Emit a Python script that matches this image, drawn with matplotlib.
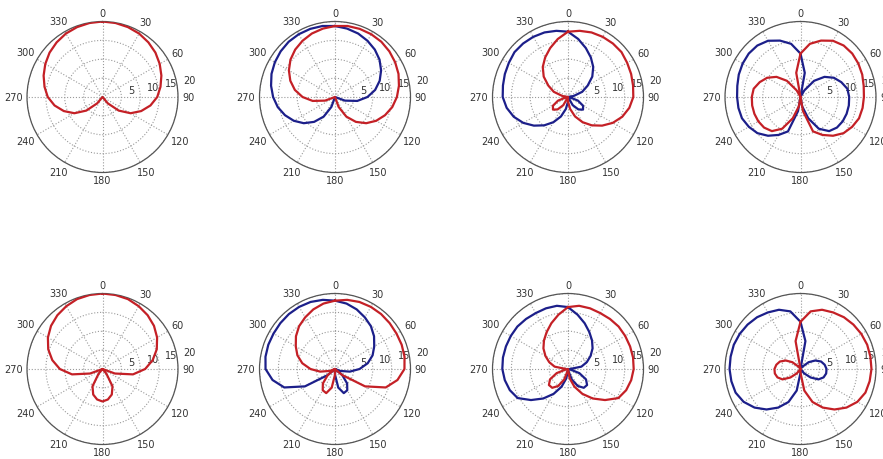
import numpy as np
import matplotlib
matplotlib.use('Agg')
import matplotlib.pyplot as plt

# compass angles (deg, clockwise from north), 10 degree steps
angles = np.arange(0, 360, 10)

# red patterns, radius = level above the -20 dB floor
# the blue curve in each panel is the mirror image of the red one
top_1 = [20.0, 19.9, 19.7, 19.4, 18.9, 18.3, 17.5, 16.6, 15.6, 14.5, 12.9, 10.9,
         8.6, 5.6, 2.2, 0.0, 0.0, 0.0, 0.0, 0.0, 0.0, 0.0, 2.2, 5.6,
         8.6, 10.9, 12.9, 14.5, 15.6, 16.6, 17.5, 18.3, 18.9, 19.4, 19.7, 19.9]
top_2 = [18.8, 19.1, 19.2, 19.2, 19.1, 18.8, 18.4, 17.9, 17.2, 16.4, 15.4, 14.1,
         12.6, 10.8, 8.6, 6.0, 2.8, 0.0, 0.0, 0.0, 0.0, 0.0, 0.0, 0.0,
         0.0, 2.8, 6.0, 8.6, 10.8, 12.6, 14.1, 15.4, 16.4, 17.2, 17.9, 18.4]
top_3 = [17.3, 17.8, 18.2, 18.4, 18.5, 18.5, 18.1, 17.8, 17.5, 17.3, 16.5, 15.3,
         13.7, 11.8, 9.8, 7.7, 5.5, 3.2, 1.2, 0.0, 0.0, 2.5, 4.3, 5.2,
         4.6, 2.8, 0.5, 0.0, 1.5, 4.0, 6.0, 8.4, 10.4, 12.1, 13.8, 15.6]
top_4 = [11.5, 14.3, 15.9, 17.2, 17.8, 17.9, 17.7, 17.4, 17.0, 16.8, 16.7, 16.5,
         15.8, 14.9, 13.4, 11.6, 9.7, 3.8, 0.0, 2.5, 6.0, 9.7, 11.8, 12.6,
         12.9, 13.0, 13.0, 12.9, 12.6, 11.5, 10.2, 8.3, 5.6, 2.0, 0.0, 6.5]
bot_1 = [20.0, 19.9, 19.7, 19.2, 18.6, 17.8, 16.7, 15.3, 13.5, 11.3, 8.2, 3.5,
         0.0, 0.0, 1.6, 5.3, 7.2, 8.2, 8.6, 8.2, 7.2, 5.3, 1.6, 0.0,
         0.0, 3.5, 8.2, 11.3, 13.5, 15.3, 16.7, 17.8, 18.6, 19.2, 19.7, 19.9]
bot_2 = [18.1, 18.6, 18.9, 19.0, 19.0, 18.9, 18.8, 18.8, 18.7, 18.4, 16.8, 14.3,
         9.2, 2.5, 0.0, 0.0, 0.0, 0.0, 1.5, 5.0, 6.8, 6.5, 5.0, 2.5,
         0.0, 1.5, 4.0, 6.5, 8.8, 10.6, 12.0, 13.5, 14.8, 15.8, 16.8, 17.6]
bot_3 = [16.4, 17.0, 17.1, 17.1, 17.3, 17.5, 17.5, 17.5, 17.5, 17.4, 17.0, 16.4,
         15.4, 12.8, 10.2, 7.6, 5.0, 2.5, 0.0, 0.5, 3.0, 5.2, 6.5, 6.6,
         5.5, 3.2, 0.5, 0.5, 3.6, 5.3, 6.9, 8.5, 9.9, 11.3, 12.9, 14.6]
bot_4 = [12.5, 15.5, 16.7, 17.3, 17.9, 18.3, 18.6, 18.8, 18.8, 18.8, 18.6, 18.3,
         17.4, 15.9, 14.0, 11.8, 9.3, 5.8, 1.0, 0.0, 0.0, 0.0, 1.5, 3.5,
         5.5, 6.5, 6.9, 6.9, 6.5, 5.8, 4.5, 2.8, 0.8, 0.0, 0.0, 7.5]

patterns = [top_1, top_2, top_3, top_4, bot_1, bot_2, bot_3, bot_4]
r_ticks = [5, 10, 15, 20]
theta_ticks = list(range(0, 360, 30))

red = '#c42026'
blue = '#1c1f8a'
fs = 7

W, H = 883, 459
col_x = [102.5, 335, 568, 800.5]
row_y = [97, 369]
R = 75.5

fig = plt.figure(figsize=(W / 100, H / 100), dpi=100)

for i, pattern in enumerate(patterns):
    cx = col_x[i % 4]
    cy = row_y[i // 4]
    ax = fig.add_axes([(cx - R) / W, (H - cy - R) / H, 2 * R / W, 2 * R / H],
                      projection='polar')
    ax.set_theta_zero_location('N')
    ax.set_theta_direction(-1)

    th = np.deg2rad(np.append(angles, 360))
    r = np.append(pattern, pattern[0])
    if i % 4 != 0:
        ax.plot(-th, r, color=blue, lw=1.6, zorder=3)
    ax.plot(th, r, color=red, lw=1.6, zorder=3)

    ax.set_ylim(0, 20)
    ax.set_yticks(r_ticks)
    ax.set_yticklabels([])
    ax.set_xticks(np.deg2rad(theta_ticks))
    ax.set_xticklabels([])
    ax.tick_params(axis='x', length=0)
    ax.grid(True, color='#9a9a9a', ls=':', lw=0.8)
    ax.spines['polar'].set_color('#555555')
    ax.spines['polar'].set_linewidth(0.9)

    # angle labels sit a fixed gap outside the rim
    for t in theta_ticks:
        s, c = np.sin(np.deg2rad(t)), np.cos(np.deg2rad(t))
        txt = str(t)
        half = abs(s) * len(txt) * 0.318 * fs + abs(c) * 0.365 * fs
        d = 3.0 + half
        ax.annotate(txt, xy=(np.deg2rad(t), 20), xytext=(d * s, d * c - 0.365 * fs),
                    textcoords='offset points', ha='center', va='baseline',
                    fontsize=fs, color='#333333', annotation_clip=False)

    for v in r_ticks:
        ax.annotate(str(v), xy=(np.deg2rad(79), v), xytext=(5, 1.5),
                    textcoords='offset points', ha='left', va='center',
                    fontsize=fs, color='#333333', annotation_clip=False, zorder=1)

fig.savefig('out.png', dpi=100)
